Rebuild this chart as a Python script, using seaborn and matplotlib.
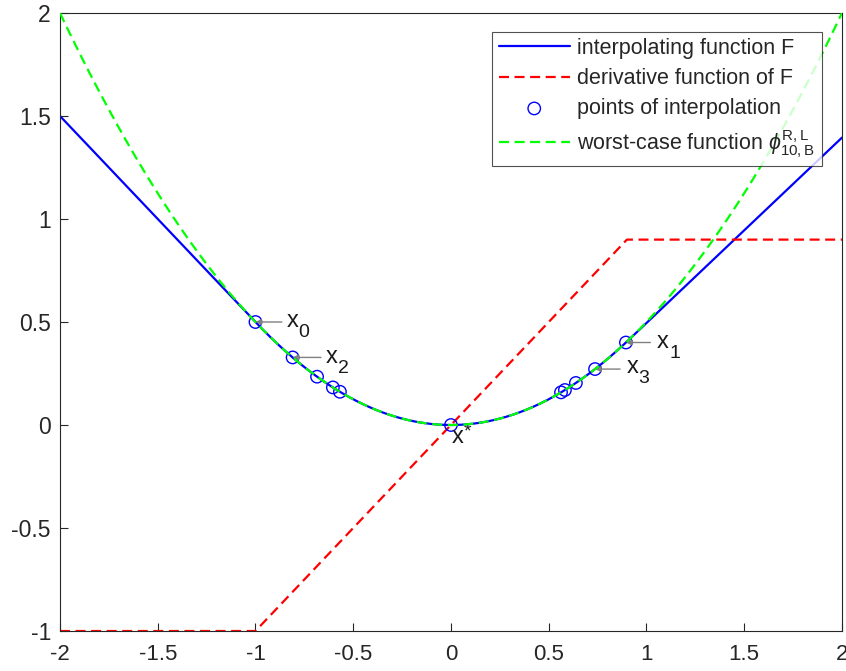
"""
Interpolating function, its derivative and the worst-case function
"""

import numpy as np
import pandas as pd
import matplotlib
matplotlib.use('Agg')
import matplotlib.pyplot as plt
import seaborn as sns

# curve parameters (slope caps of F on each side)
slope_left = -1.0
slope_right = 0.9
x_grid = np.linspace(-2, 2, 801)

# derivative of F: piecewise linear, breakpoints
deriv_x = [-2.0, -1.0, 0.9, 2.0]
deriv_y = [-1.0, -1.0, 0.9, 0.9]

# points of interpolation
pts_x = [-1.0, -0.81, -0.685, -0.604, -0.568, 0.0, 0.563, 0.583, 0.639, 0.737, 0.895]

# labels: subscript, point x, text x, text baseline y, arrow tail x
label_subs = ['0', '2', '1', '3']
label_pts = [-1.0, -0.81, 0.895, 0.737]
label_tx = [-0.84, -0.64, 1.055, 0.90]
label_ty = [0.476, 0.301, 0.374, 0.252]
label_tail = [-0.865, -0.665, 1.02, 0.865]


def huber(x):
    """F: quadratic in the middle, linear outside the slope caps"""
    return np.where(x < slope_left, slope_left * x - slope_left ** 2 / 2,
                    np.where(x > slope_right, slope_right * x - slope_right ** 2 / 2,
                             x ** 2 / 2))


sns.set_style('ticks')
plt.rcParams['font.family'] = ['Liberation Sans', 'DejaVu Sans']
plt.rcParams['mathtext.fontset'] = 'custom'
plt.rcParams['mathtext.rm'] = 'Liberation Sans'
plt.rcParams['mathtext.it'] = 'Liberation Sans:italic'

fig = plt.figure(figsize=(8.46, 6.71), dpi=100)
ax = fig.add_axes([0.0709, 0.0596, 0.9243, 0.921])

df = pd.DataFrame({'x': x_grid, 'F': huber(x_grid), 'phi': x_grid ** 2 / 2})
pts = pd.DataFrame({'x': pts_x, 'y': huber(np.array(pts_x))})

sns.lineplot(data=df, x='x', y='F', ax=ax, color='#0000ff', lw=1.6,
             label='interpolating function F', sort=False)
sns.lineplot(x=deriv_x, y=deriv_y, ax=ax, color='#ff0000', lw=1.6,
             label='derivative function of F', sort=False)
ax.lines[-1].set_dashes((4.5, 2.5))
sns.scatterplot(data=pts, x='x', y='y', ax=ax, marker='o', s=80,
                facecolor='none', edgecolor='#0000ff', linewidth=1.0,
                label='points of interpolation', zorder=3)
sns.lineplot(data=df, x='x', y='phi', ax=ax, color='#00ff00', lw=1.6,
             label=r'worst-case function $\phi^{\mathrm{R,L}}_{\mathrm{10,B}}$',
             sort=False, zorder=4)
ax.lines[-1].set_dashes((4.5, 2.5))

# annotations with small gray arrows, MATLAB-like large subscripts
txt_color = '#1a1a1a'
for sub, px, tx, ty, tail in zip(label_subs, label_pts, label_tx, label_ty, label_tail):
    py = float(huber(np.array(px)))
    ax.annotate('', xy=(px, py), xytext=(tail, py),
                arrowprops=dict(arrowstyle='-|>', color='#808080', lw=1.0,
                                mutation_scale=8, shrinkA=0, shrinkB=0))
    ax.text(tx, ty, 'x', fontsize=17, ha='left', va='baseline', color=txt_color)
    ax.annotate(sub, xy=(tx, ty), xytext=(8.5, -7), textcoords='offset points',
                fontsize=14, ha='left', va='baseline', color=txt_color)
ax.text(0.005, -0.087, 'x', fontsize=17, ha='left', va='baseline', color=txt_color, zorder=5)
ax.annotate('*', xy=(0.005, -0.087), xytext=(8.5, 5), textcoords='offset points',
            fontsize=14, ha='left', va='baseline', color=txt_color)

ax.set_xlim(-2, 2)
ax.set_ylim(-1, 2)
ax.set_xticks([-2, -1.5, -1, -0.5, 0, 0.5, 1, 1.5, 2])
ax.set_xticklabels(['-2', '-1.5', '-1', '-0.5', '0', '0.5', '1', '1.5', '2'])
ax.set_yticks([-1, -0.5, 0, 0.5, 1, 1.5, 2])
ax.set_yticklabels(['-1', '-0.5', '0', '0.5', '1', '1.5', '2'])
ax.set_xlabel('')
ax.set_ylabel('')
ax.tick_params(direction='in', length=6, width=0.8, labelsize=16.5,
               colors='#262626', top=False, right=False)
ax.tick_params(axis='x', pad=9, labelsize=16)
ax.tick_params(axis='y', pad=6.5)
for sp in ax.spines.values():
    sp.set_visible(True)
    sp.set_color('#262626')
    sp.set_linewidth(0.8)

leg = ax.legend(loc='upper right', bbox_to_anchor=(0.974, 0.97), fontsize=15.5,
                frameon=True, fancybox=False, handlelength=3.3,
                borderaxespad=0, borderpad=0.3, labelspacing=0.42,
                handletextpad=0.35)
leg.get_frame().set_edgecolor('#262626')
leg.get_frame().set_linewidth(0.8)

fig.savefig('out.png', dpi=100)
plt.close(fig)
